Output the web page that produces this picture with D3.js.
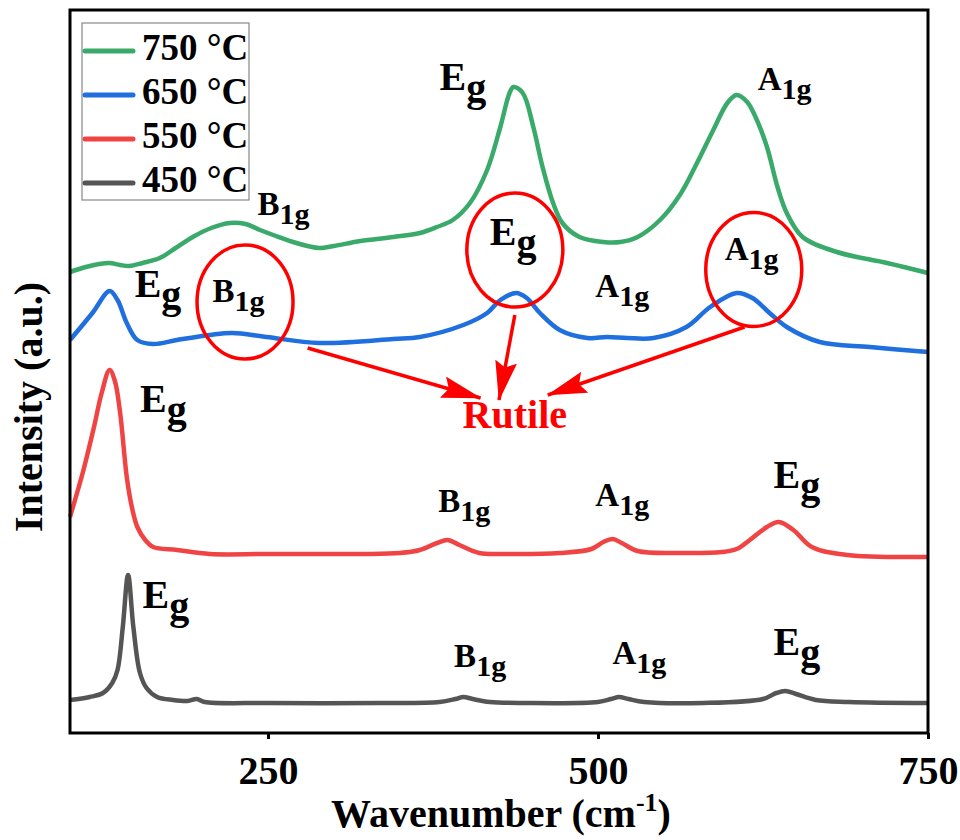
<!DOCTYPE html>
<html>
<head>
<meta charset="utf-8">
<script src="https://cdn.jsdelivr.net/npm/d3@7"></script>
<style>
  body { margin: 0; background: #fff; }
  svg text { font-family: "Liberation Serif", "Times New Roman", Times, "DejaVu Serif", serif; font-weight: bold; }
</style>
</head>
<body>
<div id="root"></div>
<script>
'use strict';

// series names, top to bottom
var seriesNames = ['750 °C', '650 °C', '550 °C', '450 °C'];

// wavenumber (cm-1) and intensity (a.u., curves stacked)
var wn750 = [100,112,122,130,138,145,155,168,180,193,207,221,233,244,256,269,280,289,300,320,345,365,378,390,403,416,426,433,436,443,451,458,466,473,486,504,517,530,547,562,575,587,598,605,613,620,628,636,643,655,681,719,750];
var int750 = [461,466,469,470,468,467,470,475,485,496,505,510,509,503,497,491,487,485,487,492,496,500,506,513,530,563,606,640,646,640,606,566,530,510,496,491,491,496,513,538,570,602,630,638,631,614,586,546,520,496,481,470,460];

var wn650 = [100,117,130,136,143,151,163,181,206,223,249,289,345,365,398,416,426,438,446,456,471,492,507,522,542,567,585,605,617,630,643,668,706,750];
var int650 = [393,420,442,433,410,393,389,393,398,400,396,390,394,396,408,420,433,440,435,420,403,395,396,395,395,406,426,440,435,420,406,391,386,381];

var wn550 = [100,110,118,124,130,134,138,143,147,151,157,163,181,206,250,320,350,365,378,386,395,410,430,471,495,504,511,518,530,560,594,605,615,628,637,648,662,689,750];
var int550 = [216,262,305,340,363,352,320,256,225,206,193,186,183,179,179,179,180,183,190,193,188,180,179,180,184,191,194,190,182,180,181,184,193,206,211,203,186,178,176];

var wn450 = [100,115,125,132,136,140,144,148,153,158,166,178,189,196,202,250,335,380,392,398,405,418,444,500,510,516,523,535,580,625,635,642,650,665,690,750];
var int450 = [33,36,40,50,63,106,158,106,60,45,36,33,32,34,31,30,30,31,34,36,34,31,30,31,34,36,34,31,30,34,40,42,39,33,31,30];

var xTicks = [250, 500, 750];

// peak labels: letter, subscript, wavenumber and intensity of the label's baseline start
var labelMain = ['E','A','B','E','B','E','A','A','E','E','B','A','E','B','A','E'];
var labelSub  = ['g','1g','1g','g','1g','g','1g','1g','g','g','1g','1g','g','1g','1g','g'];
var labelWn   = [380,621,242,149,208,418,498,596,153,155,379,498,633,391,511,633];
var labelInt  = [643,643,518,436,431,488,436,473,321,125,221,227,245,66,69,78];

// rutile circles (centre) and arrows
var circleWn = [232.6, 437, 618];
var circleInt = [431, 483, 463.5];
var arrowFrom = [[280, 385], [437, 418], [611, 406]];
var arrowTo = [[411, 335], [425, 333], [462, 338]];

var colors = ['#3aaa6a', '#1f6fde', '#f04444', '#555555'];

var W = 960, H = 840;
var plotL = 70, plotR = 928, plotT = 10, plotB = 733;

var x = d3.scaleLinear().domain([100, 750]).range([plotL, plotR]);
var y = d3.scaleLinear().domain([0, 723]).range([plotB, plotT]);

var svg = d3.select('#root').append('svg').attr('width', W).attr('height', H);

var allSeries = [
  d3.zip(wn750, int750),
  d3.zip(wn650, int650),
  d3.zip(wn550, int550),
  d3.zip(wn450, int450)
];

var line = d3.line()
  .x(function (d) { return x(d[0]); })
  .y(function (d) { return y(d[1]); })
  .curve(d3.curveCatmullRom.alpha(0.5));

svg.selectAll('path.curve')
  .data(allSeries)
  .enter().append('path')
  .attr('class', 'curve')
  .attr('d', line)
  .attr('fill', 'none')
  .attr('stroke', function (d, i) { return colors[i]; })
  .attr('stroke-width', 4.5)
  .attr('stroke-linejoin', 'round');

// frame
svg.append('rect')
  .attr('x', plotL).attr('y', plotT)
  .attr('width', plotR - plotL).attr('height', plotB - plotT)
  .attr('fill', 'none').attr('stroke', '#000').attr('stroke-width', 3);

// bottom axis
var xAxis = svg.append('g')
  .attr('transform', 'translate(0,' + plotB + ')')
  .call(d3.axisBottom(x).tickValues(xTicks).tickSize(6).tickPadding(17));
xAxis.attr('font-family', null);
xAxis.select('.domain').remove();
xAxis.selectAll('line').attr('stroke', '#000').attr('stroke-width', 3);
xAxis.selectAll('text').attr('font-size', 40).attr('fill', '#000');

// axis titles
var xt = svg.append('text')
  .attr('x', 501).attr('y', 827)
  .attr('text-anchor', 'middle')
  .attr('font-size', 40);
xt.append('tspan').text('Wavenumber (cm');
xt.append('tspan').attr('font-size', 26).attr('dy', -16).text('-1');
xt.append('tspan').attr('dy', 16).text(')');

svg.append('text')
  .attr('transform', 'translate(42,407) rotate(-90)')
  .attr('text-anchor', 'middle')
  .attr('font-size', 40)
  .text('Intensity (a.u.)');

// rutile circles
svg.selectAll('ellipse.rut')
  .data(circleWn)
  .enter().append('ellipse')
  .attr('class', 'rut')
  .attr('cx', function (d) { return x(d); })
  .attr('cy', function (d, i) { return y(circleInt[i]); })
  .attr('rx', 48)
  .attr('ry', 57)
  .attr('fill', 'none')
  .attr('stroke', '#f00')
  .attr('stroke-width', 3.5);

// arrows
svg.append('defs').append('marker')
  .attr('id', 'arrowhead')
  .attr('markerUnits', 'userSpaceOnUse')
  .attr('viewBox', '0 0 40 22')
  .attr('markerWidth', 40)
  .attr('markerHeight', 22)
  .attr('refX', 39)
  .attr('refY', 11)
  .attr('orient', 'auto')
  .append('path')
  .attr('d', 'M0,0 L40,11 L0,22 L6,11 Z')
  .attr('fill', '#f00');

svg.selectAll('line.arrow')
  .data(arrowFrom)
  .enter().append('line')
  .attr('class', 'arrow')
  .attr('x1', function (d) { return x(d[0]); })
  .attr('y1', function (d) { return y(d[1]); })
  .attr('x2', function (d, i) { return x(arrowTo[i][0]); })
  .attr('y2', function (d, i) { return y(arrowTo[i][1]); })
  .attr('stroke', '#f00')
  .attr('stroke-width', 3.5)
  .attr('marker-end', 'url(#arrowhead)');

svg.append('text')
  .attr('x', x(437)).attr('y', y(305))
  .attr('text-anchor', 'middle')
  .attr('font-size', 40)
  .attr('fill', '#f00')
  .text('Rutile');

// peak labels
var labels = svg.selectAll('text.peak')
  .data(labelMain)
  .enter().append('text')
  .attr('class', 'peak')
  .attr('x', function (d, i) { return x(labelWn[i]); })
  .attr('y', function (d, i) { return y(labelInt[i]); })
  .attr('fill', '#000');

labels.append('tspan')
  .attr('font-size', function (d) { return d === 'E' ? 40 : 33; })
  .text(function (d) { return d; });

labels.append('tspan')
  .attr('font-size', function (d, i) { return labelSub[i] === 'g' ? 40 : 30; })
  .attr('dy', function (d, i) { return labelSub[i] === 'g' ? 11 : 9; })
  .text(function (d, i) { return labelSub[i]; });

// legend
var legend = svg.append('g');
legend.append('rect')
  .attr('x', 82).attr('y', 23)
  .attr('width', 167).attr('height', 177)
  .attr('fill', '#fff')
  .attr('stroke', '#888')
  .attr('stroke-width', 1.2);

var items = legend.selectAll('g.item')
  .data(seriesNames)
  .enter().append('g')
  .attr('class', 'item')
  .attr('transform', function (d, i) { return 'translate(0,' + (51 + i * 44) + ')'; });

items.append('line')
  .attr('x1', 85).attr('x2', 133)
  .attr('stroke', function (d, i) { return colors[i]; })
  .attr('stroke-width', 5)
  .attr('stroke-linecap', 'round');

items.append('text')
  .attr('x', 142).attr('y', 9)
  .attr('font-size', 37)
  .text(function (d) { return d; });
</script>
</body>
</html>
